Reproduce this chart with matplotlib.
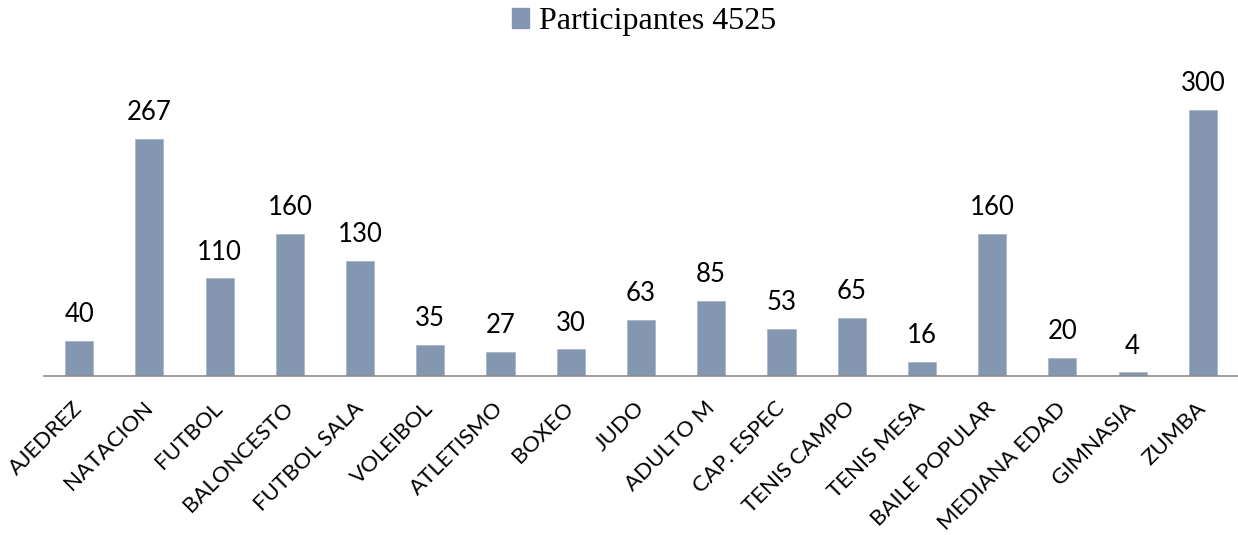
import matplotlib
matplotlib.use("Agg")
import matplotlib.pyplot as plt
from matplotlib.patches import Patch

# datos del gráfico
categorias = ["AJEDREZ", "NATACION", "FUTBOL", "BALONCESTO", "FUTBOL SALA",
              "VOLEIBOL", "ATLETISMO", "BOXEO", "JUDO", "ADULTO M",
              "CAP. ESPEC", "TENIS CAMPO", "TENIS MESA", "BAILE POPULAR",
              "MEDIANA EDAD", "GIMNASIA", "ZUMBA"]
participantes = [40, 267, 110, 160, 130, 35, 27, 30, 63, 85, 53, 65, 16,
                 160, 20, 4, 300]
leyenda = "Participantes 4525"

color_barra = "#8497B0"

fig = plt.figure(figsize=(12.38, 5.35), dpi=100)
ax = fig.add_axes([44 / 1238, (535 - 376) / 535, 1 - 44 / 1238, (376 - 60) / 535])

x = range(len(categorias))
bars = ax.bar(x, participantes, width=0.4, color=color_barra,
              edgecolor="#A9B6C9", linewidth=0.6)

ax.set_xlim(-0.5, len(categorias) - 0.5)
ax.set_ylim(0, 316 / (266 / 300))

# etiquetas de valor sobre cada barra
for b, v in zip(bars, participantes):
    ax.annotate(str(v), (b.get_x() + b.get_width() / 2, v),
                xytext=(0, 10), textcoords="offset points",
                ha="center", va="bottom", fontsize=18.5, family="Lato")

ax.set_xticks(list(x))
ax.set_xticklabels(categorias, rotation=45, ha="right", va="center",
                   rotation_mode="anchor", fontsize=16, family="Lato")
ax.tick_params(axis="x", length=0, pad=21)
ax.set_yticks([])
for s in ("left", "right", "top"):
    ax.spines[s].set_visible(False)
ax.spines["bottom"].set_color("#8C8C8C")
ax.spines["bottom"].set_linewidth(1.2)

fig.legend(handles=[Patch(color=color_barra)], labels=[leyenda],
           loc="upper center", bbox_to_anchor=(0.52, 1.04), frameon=False,
           prop={"family": "Liberation Serif", "size": 23},
           handlelength=0.55, handleheight=0.55, handletextpad=0.3)

fig.savefig("out.png", dpi=100)
